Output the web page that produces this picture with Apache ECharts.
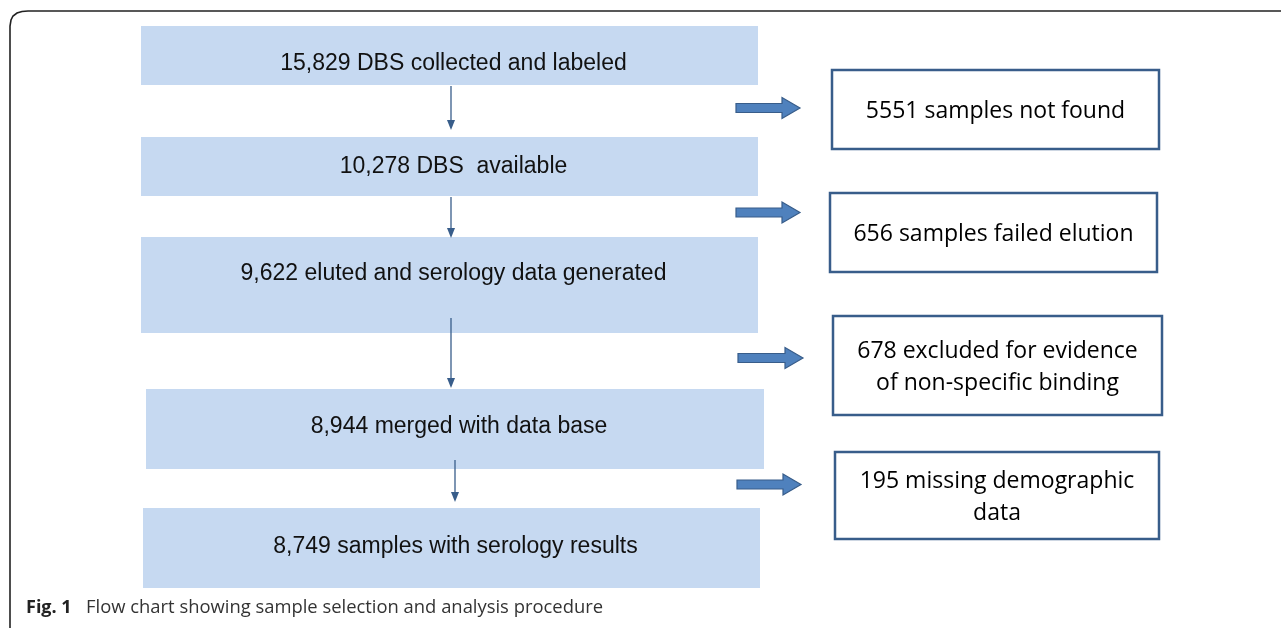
<!DOCTYPE html>
<html><head><meta charset="utf-8">
<script src="https://cdn.jsdelivr.net/npm/echarts@6/dist/echarts.min.js"></script>
<style>html,body{margin:0;padding:0;background:#fff}#c{width:1281px;height:628px}</style>
</head><body><div id="c"></div>
<script>
// ---- data ----
const mainCounts = ['15,829', '10,278', '9,622', '8,944', '8,749'];
const mainTexts = ['DBS collected and labeled', 'DBS  available', 'eluted and serology data generated', 'merged with data base', 'samples with serology results'];
const exclCounts = ['5551', '656', '678', '195'];
const exclTexts = [['samples not found'], ['samples failed elution'], ['excluded for evidence', 'of non-specific binding'], ['missing demographic', 'data']];
const captionBold = 'Fig. 1';
const captionText = 'Flow chart showing sample selection and analysis procedure';

// ---- layout (geometry only) ----
const mainBoxes = [[141,26,617,59,61],[141,137,617,59,164],[141,237,617,96,271],[146,389,618,80,424],[143,508,617,80,544]];
const downArrows = [[451,86,130],[451,197,238],[451,318,388],[455,460,502]];
const sideArrows = [[736,108,800],[736,212.5,800],[738,358,803],[737,484.5,801]];
const exclBoxes = [[832,70,327,79],[830,193,327,79],[833,316,329,99],[835,452,324,87]];

const BLUE_FILL = '#C6D9F1', DARK = '#385D8A', ARROW_FILL = '#4F81BD';
const els = [];
// frame
els.push({type:'polyline', shape:{points:[[10,628],[10,26],[11,20],[13,16],[17,13],[22,11.5],[28,11],[1281,11]]}, style:{stroke:'#222', lineWidth:1.6, fill:null}});
mainBoxes.forEach((b,i)=>{
  els.push({type:'rect', shape:{x:b[0],y:b[1],width:b[2],height:b[3]}, style:{fill:BLUE_FILL}});
  els.push({type:'text', x:b[0]+b[2]/2 + 4, y:b[4] + 2.5, style:{text:mainCounts[i]+' '+mainTexts[i], font:'23px "Liberation Sans", Arial, sans-serif', fill:'#111', align:'center', verticalAlign:'middle'}});
});
downArrows.forEach(a=>{
  els.push({type:'line', shape:{x1:a[0],y1:a[1],x2:a[0],y2:a[2]-8}, style:{stroke:DARK, lineWidth:1.3}});
  els.push({type:'polygon', shape:{points:[[a[0]-4,a[2]-10],[a[0]+4,a[2]-10],[a[0],a[2]]]}, style:{fill:DARK}});
});
sideArrows.forEach(a=>{
  const x0=a[0], y=a[1], x1=a[2], hx=x1-18;
  els.push({type:'polygon', shape:{points:[[x0,y-4.5],[hx,y-4.5],[hx,y-10.5],[x1,y],[hx,y+10.5],[hx,y+4.5],[x0,y+4.5]]}, style:{fill:ARROW_FILL, stroke:DARK, lineWidth:1.2}});
});
exclBoxes.forEach((b,i)=>{
  els.push({type:'rect', shape:{x:b[0],y:b[1],width:b[2],height:b[3]}, style:{fill:'#fff', stroke:DARK, lineWidth:2.5}});
  const lines = exclTexts[i].slice();
  lines[0] = exclCounts[i] + ' ' + lines[0];
  const lh = 32, cy = b[1]+b[3]/2 + 1.5;
  lines.forEach((t,k)=>{
    els.push({type:'text', x:b[0]+b[2]/2, y:cy + (k-(lines.length-1)/2)*lh, style:{text:t, font:'23px "Open Sans", sans-serif', fill:'#000', align:'center', verticalAlign:'middle'}});
  });
});
// caption
els.push({type:'text', x:26, y:608, style:{text:captionBold, font:'bold 18px "Open Sans", sans-serif', fill:'#222', verticalAlign:'middle'}});
els.push({type:'text', x:86, y:608, style:{text:captionText, font:'18.4px "Open Sans", sans-serif', fill:'#333', verticalAlign:'middle'}});

const chart = echarts.init(document.getElementById('c'), null, {renderer:'canvas'});
chart.setOption({animation:false, graphic:{elements:els}});
</script></body></html>
